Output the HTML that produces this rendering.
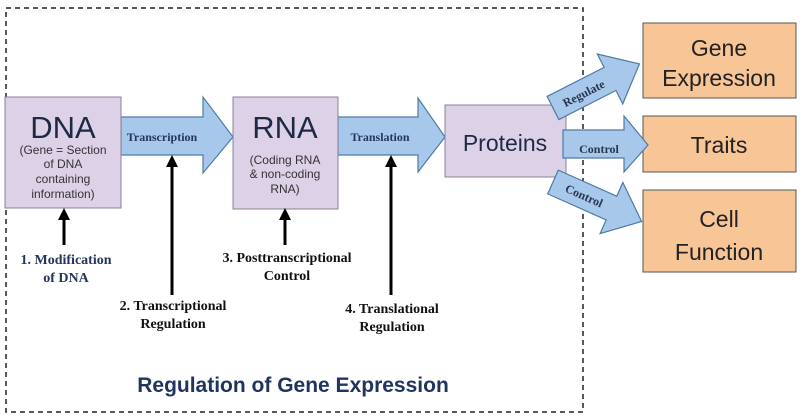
<!DOCTYPE html>
<html><head><meta charset="utf-8"><style>
html,body{margin:0;padding:0;background:#fff;}
svg{display:block;}
.s{font-family:"Liberation Sans",sans-serif;}
.r{font-family:"Liberation Serif",serif;font-weight:bold;}
</style></head><body>
<svg width="800" height="420" viewBox="0 0 800 420">
<defs>
<marker id="ah" markerWidth="4" markerHeight="4" refX="2" refY="2" orient="auto" markerUnits="strokeWidth"><path d="M0,0 L4,2 L0,4 z" fill="#000"/></marker>
</defs>
<rect x="6" y="8" width="577" height="404" fill="none" stroke="#222" stroke-width="1.5" stroke-dasharray="5,4"/>
<path d="M121,117 H203 V97 L233,137 L203,173 V155 H121 Z" fill="#a7c8ea" stroke="#4d7ba6" stroke-width="1.2"/>
<path d="M338,117 H418 V98 L445,137 L418,172 V155 H338 Z" fill="#a7c8ea" stroke="#4d7ba6" stroke-width="1.2"/>
<rect x="5" y="97" width="116" height="111" fill="#dcd1e6" stroke="#8a809a" stroke-width="1"/>
<rect x="233" y="97" width="105" height="112" fill="#dcd1e6" stroke="#8a809a" stroke-width="1"/>
<rect x="445" y="105" width="121" height="72" fill="#dcd1e6" stroke="#8a809a" stroke-width="1"/>
<rect x="643" y="23" width="153" height="75" fill="#f8c597" stroke="#555" stroke-width="1"/>
<rect x="643" y="116" width="153" height="56" fill="#f8c597" stroke="#555" stroke-width="1"/>
<rect x="643" y="190" width="153" height="82" fill="#f8c597" stroke="#555" stroke-width="1"/>
<path d="M563,130 H624 V116 L648,145 L624,172 V158 H563 Z" fill="#a7c8ea" stroke="#4d7ba6" stroke-width="1.2"/>
<g transform="translate(553,108) rotate(-27)">
<path d="M0,-13 H64 V-28 L97,0 L64,28 V13 H0 Z" fill="#a7c8ea" stroke="#4d7ba6" stroke-width="1.2"/>
<text x="34" y="5" class="r" font-size="12" font-weight="normal" fill="#2a3550" text-anchor="middle">Regulate</text>
</g>
<g transform="translate(553,182) rotate(24)">
<path d="M0,-13 H64 V-28 L97,0 L64,28 V13 H0 Z" fill="#a7c8ea" stroke="#4d7ba6" stroke-width="1.2"/>
<text x="34" y="4" class="r" font-size="12" font-weight="normal" fill="#2a3550" text-anchor="middle">Control</text>
</g>
<text x="599" y="153" class="r" font-size="12" font-weight="normal" fill="#2a3550" text-anchor="middle">Control</text>
<text x="162" y="141" class="r" font-size="12" fill="#24365a" text-anchor="middle">Transcription</text>
<text x="380" y="141" class="r" font-size="12" fill="#24365a" text-anchor="middle">Translation</text>
<text x="63" y="138" class="s" font-size="31" fill="#1e2a44" text-anchor="middle">DNA</text>
<g class="s" font-size="12" fill="#333" text-anchor="middle">
<text x="63" y="154">(Gene = Section</text><text x="63" y="168">of DNA</text><text x="63" y="183">containing</text><text x="63" y="198">information)</text>
</g>
<text x="285" y="138" class="s" font-size="31" fill="#1e2a44" text-anchor="middle">RNA</text>
<g class="s" font-size="12" fill="#333" text-anchor="middle">
<text x="285" y="164">(Coding RNA</text><text x="285" y="178">&amp; non-coding</text><text x="285" y="193">RNA)</text>
</g>
<text x="505" y="151" class="s" font-size="23" fill="#1e2a44" text-anchor="middle">Proteins</text>
<g class="s" font-size="23" fill="#222" text-anchor="middle">
<text x="719" y="56">Gene</text><text x="719" y="86">Expression</text>
<text x="719" y="153">Traits</text>
<text x="719" y="227">Cell</text><text x="719" y="260">Function</text>
</g>
<g stroke="#000" stroke-width="3" marker-end="url(#ah)">
<line x1="64" y1="245" x2="64" y2="214"/>
<line x1="172" y1="295" x2="172" y2="161"/>
<line x1="285" y1="245" x2="285" y2="214"/>
<line x1="391" y1="295" x2="391" y2="161"/>
</g>
<g class="r" font-size="14" text-anchor="middle">
<text x="66" y="264" fill="#24365a">1. Modification</text><text x="66" y="282" fill="#24365a">of DNA</text>
<text x="173" y="310" fill="#111">2. Transcriptional</text><text x="173" y="328" fill="#111">Regulation</text>
<text x="287" y="262" fill="#111">3. Posttranscriptional</text><text x="287" y="280" fill="#111">Control</text>
<text x="392" y="313" fill="#111">4. Translational</text><text x="392" y="331" fill="#111">Regulation</text>
</g>
<text x="293" y="392" class="s" font-size="21" font-weight="bold" fill="#1f3560" text-anchor="middle">Regulation of Gene Expression</text>
</svg>
</body></html>
